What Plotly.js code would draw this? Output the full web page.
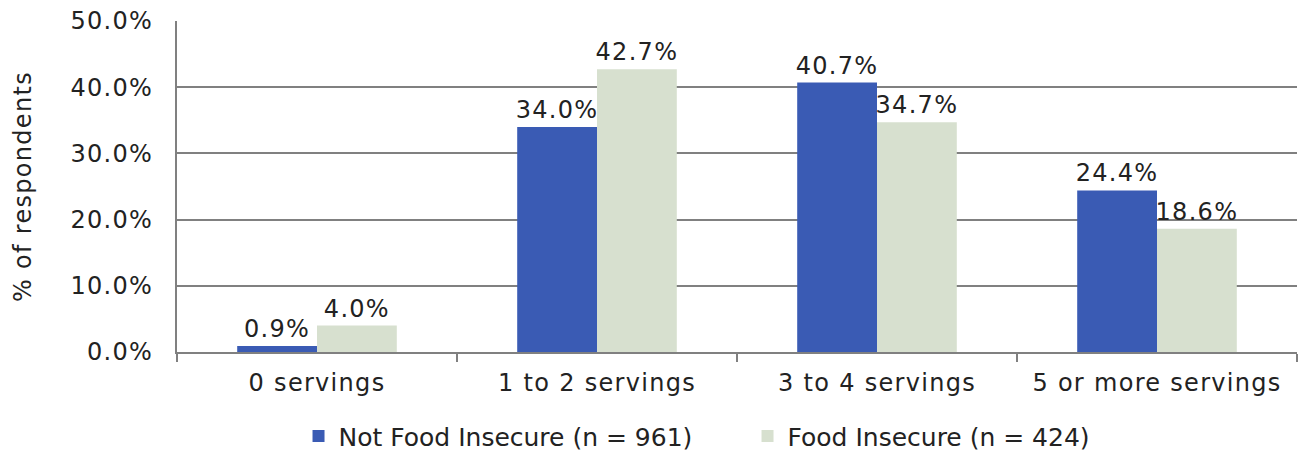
<!DOCTYPE html>
<html>
<head>
<meta charset="utf-8">
<script src="https://cdn.plot.ly/plotly-3.0.1.min.js"></script>
<style>html,body{margin:0;padding:0;background:#fff;}#chart{width:1298px;height:458px;}
#chart .xtick text, #chart .ytick text, #chart .bartext, #chart .ytitle{letter-spacing:1.3px;}</style>
</head>
<body>
<div id="chart"></div>
<script>
const categories = ["0 servings", "1 to 2 servings", "3 to 4 servings", "5 or more servings"];
const seriesNames = ["Not Food Insecure (n = 961)", "Food Insecure (n = 424)"];
const notFoodInsecure = [0.9, 34.0, 40.7, 24.4];
const foodInsecure = [4.0, 42.7, 34.7, 18.6];
const yTickVals = [0, 10, 20, 30, 40, 50];

const font = {family: "DejaVu Sans, sans-serif", size: 24, color: "#222"};
function trace(name, vals, color) {
  return {
    type: "bar", name: name, x: categories, y: vals,
    marker: {color: color},
    text: vals.map(v => v.toFixed(1) + "%"),
    textposition: "outside", cliponaxis: false,
    textfont: font, hoverinfo: "skip"
  };
}
const data = [
  trace(seriesNames[0], notFoodInsecure, "#3A5BB4"),
  trace(seriesNames[1], foodInsecure, "#D7E0CF")
];
const layout = {
  width: 1298, height: 458,
  margin: {l: 177, r: 1, t: 21, b: 106, autoexpand: false},
  paper_bgcolor: "#fff", plot_bgcolor: "#fff",
  font: font,
  barmode: "group", bargap: 0.43, bargroupgap: 0,
  showlegend: true,
  legend: {orientation: "h", x: 0.1085, xanchor: "left", y: -0.185, yanchor: "top",
           entrywidth: 404, entrywidthmode: "pixels",
           font: {family: font.family, size: 25, color: "#222"}, traceorder: "normal"},
  xaxis: {
    automargin: false,
    showline: true, linecolor: "#808080", linewidth: 2,
    ticks: "outside", tickson: "boundaries", ticklen: 8, tickcolor: "#808080", tickwidth: 2,
    tickfont: font, showgrid: false, ticklabelstandoff: 8
  },
  yaxis: {
    automargin: false,
    range: [0, 50], tickvals: yTickVals, ticktext: yTickVals.map(v => v.toFixed(1) + "%"),
    showgrid: true, gridcolor: "#808080", gridwidth: 2,
    showline: true, linecolor: "#808080", linewidth: 2,
    ticks: "", tickfont: font, ticklabelstandoff: 17,
    title: {text: "% of respondents", font: font, standoff: 39},
    zeroline: false
  }
};
Plotly.newPlot("chart", data, layout, {displayModeBar: false, staticPlot: true});
</script>
</body>
</html>
